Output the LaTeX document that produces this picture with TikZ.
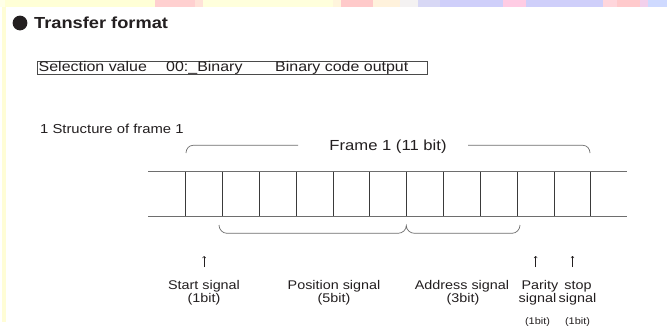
\documentclass[tikz,border=0pt]{standalone}
\usepackage{fontspec}
\setmainfont{Liberation Sans}[FakeStretch=1.14]
\usetikzlibrary{arrows.meta}
\definecolor{ink}{HTML}{231F20}
\definecolor{rulegrey}{HTML}{6E6E6E}
\definecolor{cellline}{HTML}{3A3A3A}
\definecolor{boxline}{HTML}{4A4A4A}
\tikzset{
  lbl/.style={inner sep=0pt, anchor=base, text=ink, font=\fontsize{12.6pt}{15pt}\selectfont},
  tinylbl/.style={lbl, font=\fontsize{9.6pt}{12pt}\selectfont},
  boxtxt/.style={inner sep=0pt, anchor=base west, text=ink, font=\fontsize{14pt}{16pt}\selectfont},
  brace/.style={draw=rulegrey, line width=0.7pt},
  hline/.style={draw=rulegrey, line width=0.8pt},
  vline/.style={draw=cellline, line width=0.7pt},
  uparrow/.style={draw=ink, line width=0.5pt, -{To[length=2.2pt,width=3.6pt]}}
}
\begin{document}
\begin{tikzpicture}[x=1pt,y=-1pt]
\useasboundingbox (0,0) rectangle (667,330);
\fill[white] (0,0) rectangle (667,330);

% decorative colour band along the top edge
\foreach \a/\b/\c in {0/5/FFFFE8, 5/155/FFFFD6, 155/195/FFD0D0, 195/203/FFE2D8,
    203/333/FFFFDC, 333/341/FFF5DC, 341/373/FFCACA, 373/400/FFF2DC,
    400/418/F4F2F2, 418/440/D8D8F5, 440/503/CFCFFA, 503/526/FFCCE4,
    526/603/CFCFFA, 603/617/FFD6DC, 617/640/FFCACC, 640/648/F2D0EC,
    648/667/CFDAFF}{
  \definecolor{bandc}{HTML}{\c}
  \fill[bandc] (\a,0) rectangle (\b,6.7);
}
% pale margin bar on the left
\fill[yellow!16] (1.7,6.7) rectangle (5.7,322);

% heading
\fill[ink] (20,23) circle (7.4);
\node[inner sep=0pt, anchor=base west, text=ink,
      font=\fontsize{16pt}{18pt}\selectfont\bfseries] (title) at (34,28.5) {Transfer format};

% selection value box
\draw[boxline, line width=0.8pt] (37,61) rectangle (427,74.5);
\node[boxtxt] (selA) at (38.5,71) {Selection value};
\node[boxtxt] (selB) at (166,71) {00:\_Binary};
\node[boxtxt] (selC) at (275,71) {Binary code output};

% section caption
\node[inner sep=0pt, anchor=base west, text=ink,
      font=\fontsize{13pt}{15pt}\selectfont] (caption) at (40,133) {1 Structure of frame 1};

% frame bracket with label
\node[inner sep=0pt, anchor=base, text=ink,
      font=\fontsize{14.6pt}{17pt}\selectfont] (frame) at (388,150.7) {Frame 1 (11 bit)};
\draw[brace] (186,153) to[out=90,in=180] (193,145.3) -- (298,145.3);
\draw[brace] (468,145.3) -- (583,145.3) to[out=0,in=90] (590,153);

% bit cells
\draw[hline] (148,171.5) -- (627,171.5);
\draw[hline] (148,216) -- (627,216);
\foreach \i in {0,...,11}{
  \draw[vline] ({185.7+36.82*\i},171.5) -- ({185.7+36.82*\i},216);
}

% grouping braces under the cells
\draw[brace] (219,225) to[out=-90,in=180] (227,233.3) -- (398,233.3)
  to[out=0,in=-90] (406.3,225.5) to[out=-90,in=180] (414.5,233.3) -- (512,233.3)
  to[out=0,in=-90] (520,225);

% pointer arrows for the single-bit fields
\coordinate (startTail) at (204.1,267);
\coordinate (startHead) at (204.1,256);
\coordinate (parTail) at (535.7,267);
\coordinate (parHead) at (535.7,256);
\coordinate (stopTail) at (572.5,267);
\coordinate (stopHead) at (572.5,256);
\draw[uparrow] (startTail) -- (startHead);
\draw[uparrow] (parTail) -- (parHead);
\draw[uparrow] (stopTail) -- (stopHead);

% field labels
\node[lbl] (startA) at (204,289) {Start signal};
\node[lbl] (startB) at (204,302) {(1bit)};
\node[lbl] (posA) at (334,289) {Position signal};
\node[lbl] (posB) at (334,302) {(5bit)};
\node[lbl] (addrA) at (462,289) {Address signal};
\node[lbl] (addrB) at (463,302) {(3bit)};
\node[lbl] (parA) at (540,289) {Parity};
\node[lbl] (parB) at (537.5,302) {signal};
\node[tinylbl] (parC) at (537.5,324.5) {(1bit)};
\node[lbl] (stopA) at (578,289) {stop};
\node[lbl] (stopB) at (577.5,302) {signal};
\node[tinylbl] (stopC) at (577.5,324.5) {(1bit)};
\end{tikzpicture}
\end{document}
